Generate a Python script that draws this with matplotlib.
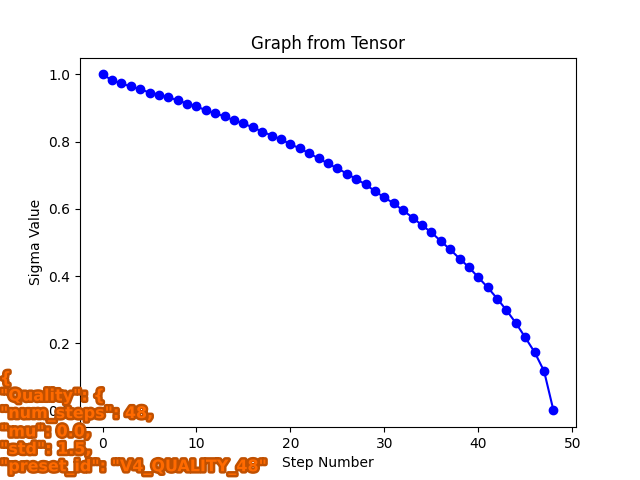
import matplotlib
matplotlib.use("Agg")
import matplotlib.pyplot as plt
import matplotlib.patheffects as pe

# sigma values, one per step
steps = list(range(49))
sigma = [1.000, 0.983, 0.973, 0.964, 0.956, 0.946, 0.940, 0.932, 0.923, 0.913,
         0.905, 0.893, 0.884, 0.875, 0.863, 0.854, 0.842, 0.830, 0.818, 0.807,
         0.792, 0.780, 0.765, 0.750, 0.735, 0.720, 0.705, 0.688, 0.673, 0.652,
         0.634, 0.616, 0.595, 0.574, 0.551, 0.530, 0.504, 0.479, 0.452, 0.426,
         0.396, 0.366, 0.333, 0.298, 0.260, 0.217, 0.173, 0.117, 0.000]

overlay = ['{',
           '"Quality": {',
           '"num_steps": 48,',
           '"mu": 0.0,',
           '"std": 1.5,',
           '"preset_id": "V4_QUALITY_48"']

fig = plt.figure(figsize=(6.4, 4.8), dpi=100)
plt.plot(steps, sigma, marker='o', linestyle='-', color='b')
plt.title('Graph from Tensor')
plt.xlabel('Step Number')
plt.ylabel('Sigma Value')

# orange json overlay in the lower left corner (sits over the tick labels, as in the source)
fig.text(0.0, 0.01, '\n'.join(overlay), ha='left', va='bottom',
         fontsize=11.5, fontweight='heavy', color='#ff6a00', linespacing=1.2,
         path_effects=[pe.withStroke(linewidth=3.5, foreground='#c05000')])

plt.savefig('out.png', dpi=100)
